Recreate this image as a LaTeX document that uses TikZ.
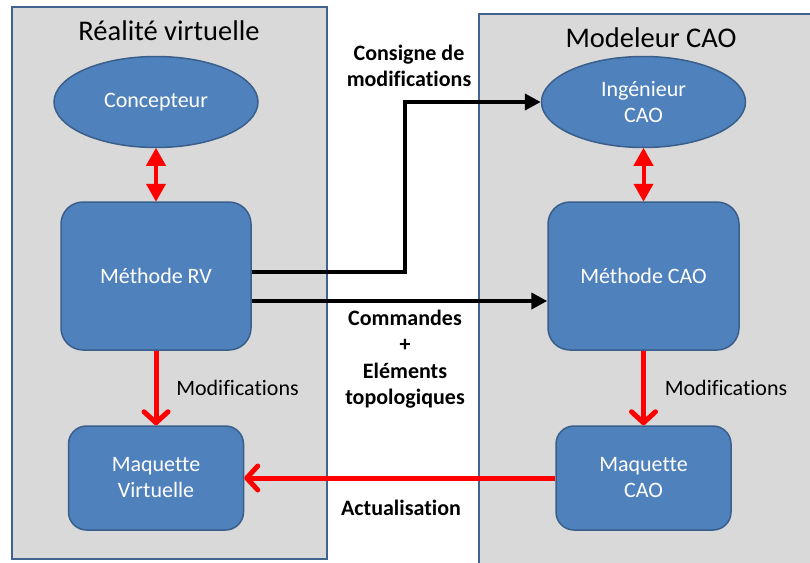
\documentclass[tikz,border=0pt]{standalone}
\usepackage{fontspec}
\setmainfont{Carlito}[Ligatures=NoCommon]
\usetikzlibrary{arrows.meta,shapes.geometric}
\definecolor{boxblue}{HTML}{4F81BD}
\definecolor{boxedge}{HTML}{3A5F8B}
\definecolor{panelgray}{HTML}{D9D9D9}
\definecolor{paneledge}{HTML}{41638F}
\definecolor{arrred}{HTML}{FF0000}
\tikzset{
  panel/.style={draw=paneledge,fill=panelgray,line width=1.5pt},
  paneltitle/.style={font=\fontsize{28.5}{32}\selectfont,text=black},
  actor/.style={ellipse,draw=boxedge,fill=boxblue,line width=1.5pt,text=white,
    minimum width=204pt,minimum height=91pt,inner sep=0pt,align=center,
    font=\fontsize{22}{26}\selectfont},
  block/.style={rectangle,rounded corners=22pt,draw=boxedge,fill=boxblue,line width=1.5pt,text=white,
    inner sep=0pt,align=center,font=\fontsize{22}{26}\selectfont},
  dblred/.style={draw=arrred,line width=4pt,{Triangle[length=18pt,width=19pt]}-{Triangle[length=18pt,width=19pt]},shorten <=-0.5pt,shorten >=-0.5pt},
  modarrow/.style={draw=arrred,line width=5pt,-{Straight Barb[length=11pt,width=24pt,round]}},
  blackarrow/.style={draw=black,line width=4.5pt,-{Triangle[length=16pt,width=16pt]}},
  plainlabel/.style={font=\fontsize{22}{26}\selectfont,text=black,inner sep=0pt},
  boldlabel/.style={font=\bfseries\fontsize{22}{26.5}\selectfont,text=black,inner sep=0pt,align=center},
}
\begin{document}
\begin{tikzpicture}[x=1pt,y=-1pt]
\useasboundingbox (0,0) rectangle (810,562);
\fill[white] (0,0) rectangle (810,562);
% panels
\draw[panel] (12,7) rectangle (327,559);
\draw[panel] (479,14) rectangle (815,570);
\node[paneltitle] (t1) at (169,31) {Réalité virtuelle};
\node[paneltitle] (t2) at (651,38) {Modeleur CAO};
% nodes
\node[actor] (conc) at (156,102) {Concepteur};
\node[block,minimum width=190pt,minimum height=148pt] (mrv) at (156,276) {Méthode RV};
\node[block,rounded corners=18pt,minimum width=175pt,minimum height=104pt] (mv) at (156,478) {Maquette\\Virtuelle};
\node[actor] (ing) at (643.5,102) {Ingénieur\\CAO};
\node[block,minimum width=191pt,minimum height=148pt] (mcao) at (643.5,276) {Méthode CAO};
\node[block,rounded corners=18pt,minimum width=175pt,minimum height=104pt] (mqcao) at (643.5,478) {Maquette\\CAO};
% connectors
\draw[dblred] (conc.south) -- (mrv.north);
\draw[dblred] (ing.south) -- (mcao.north);
\draw[modarrow] (mrv.south) -- (mv.north);
\draw[modarrow] (mcao.south) -- (mqcao.north);
\draw[modarrow] (mqcao.west) -- (mv.east);
\coordinate (bendx) at (405,0);
\draw[blackarrow] ([yshift=4pt]mrv.east) -| (ing.west -| bendx) -- (ing.west);
\draw[blackarrow] ([yshift=-25pt]mrv.east) -- ([yshift=-25pt]mrv.east -| mcao.west);
% labels
\node[plainlabel] (lm1) at (237.5,388) {Modifications};
\node[plainlabel] (lm2) at (726,388) {Modifications};
\node[boldlabel] (lcons) at (409,66) {Consigne de\\modifications};
\node[boldlabel] (lcmd) at (405,359) {Commandes\\+\\Eléments\\topologiques};
\node[boldlabel] (lact) at (401,508) {Actualisation};
\end{tikzpicture}
\end{document}
